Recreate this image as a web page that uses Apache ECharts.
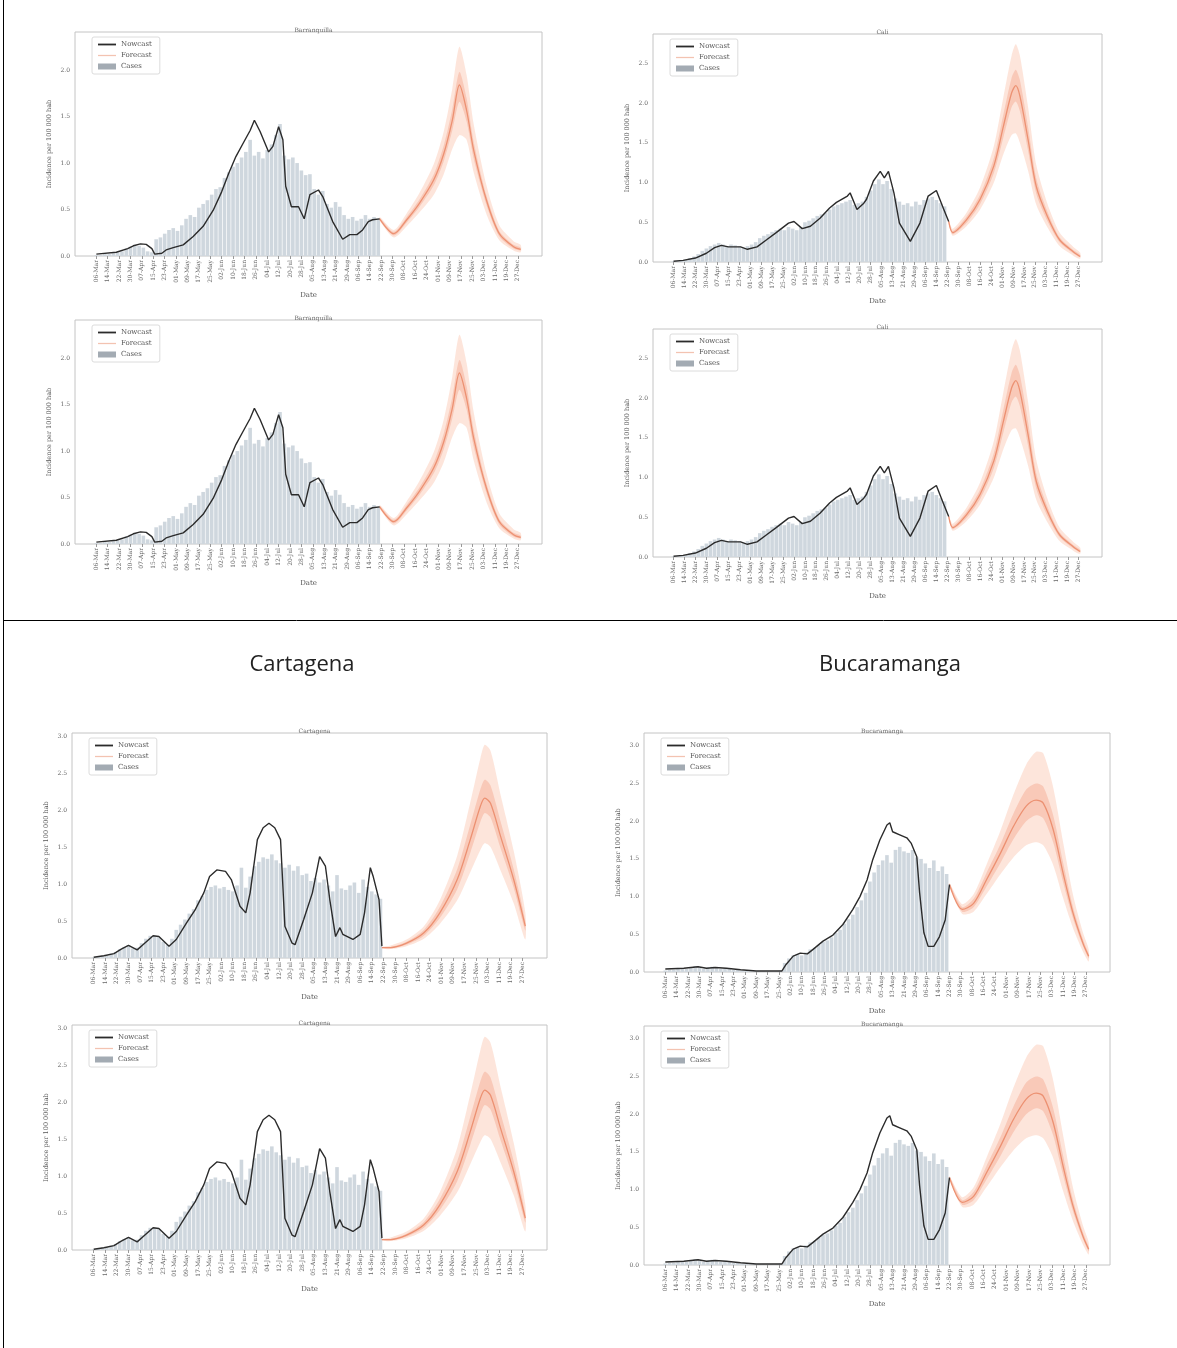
<!DOCTYPE html>
<html>
<head>
<meta charset="utf-8">
<script src="https://cdn.jsdelivr.net/npm/echarts@6/dist/echarts.min.js"></script>
<style>
  body { margin: 0; background: #fff; }
  #chart { width: 1177px; height: 1348px; }
</style>
</head>
<body>
<div id="chart"></div>
<script>
// tick labels of the date axis, one every 8 days starting on day 0
var dateLabels = ['06-Mar','14-Mar','22-Mar','30-Mar','07-Apr','15-Apr','23-Apr','01-May','09-May','17-May',
  '25-May','02-Jun','10-Jun','18-Jun','26-Jun','04-Jul','12-Jul','20-Jul','28-Jul','05-Aug','13-Aug','21-Aug',
  '29-Aug','06-Sep','14-Sep','22-Sep','30-Sep','08-Oct','16-Oct','24-Oct','01-Nov','09-Nov','17-Nov','25-Nov',
  '03-Dec','11-Dec','19-Dec','27-Dec'];
var yTicks20 = [0, 0.5, 1.0, 1.5, 2.0];
var yTicks25 = [0, 0.5, 1.0, 1.5, 2.0, 2.5];
var yTicks30 = [0, 0.5, 1.0, 1.5, 2.0, 2.5, 3.0];

// days (from 06-Mar) of the sampled case bars
var caseDays = [0,3,6,9,12,15,18,21,24,27,30,33,36,39,42,45,48,51,54,57,60,63,66,69,72,75,78,81,84,87,90,93,96,99,
  102,105,108,111,114,117,120,123,126,129,132,135,138,141,144,147,150,153,156,159,162,165,168,171,174,177,180,183,
  186,189,192,195,198];

// Barranquilla
var baqCases = [0.01,0.01,0.02,0.02,0.03,0.04,0.05,0.08,0.1,0.12,0.11,0.09,0.05,0.04,0.18,0.2,0.24,0.28,0.3,0.27,
  0.33,0.4,0.44,0.42,0.52,0.56,0.6,0.66,0.72,0.74,0.84,0.9,0.96,1.0,1.06,1.12,1.25,1.08,1.12,1.05,1.14,1.2,1.3,1.42,
  1.08,1.04,1.06,1.0,0.92,0.87,0.88,0.72,0.66,0.7,0.56,0.52,0.58,0.53,0.44,0.4,0.42,0.38,0.4,0.44,0.4,0.42,0.4];
var baqNowDays = [0,14,22,26,31,35,39,41,46,49,54,61,68,75,82,88,93,98,103,108,111,115,121,124,128,129,131,133,
  137,142,146,150,156,159,166,173,178,183,187,191,194,199];
var baqNowVals = [0.02,0.04,0.08,0.11,0.13,0.125,0.08,0.02,0.03,0.065,0.09,0.12,0.21,0.32,0.49,0.69,0.89,1.07,
  1.21,1.35,1.46,1.34,1.12,1.18,1.39,1.41,1.25,0.75,0.53,0.53,0.4,0.66,0.71,0.64,0.37,0.18,0.23,0.23,0.28,0.37,
  0.39,0.40];
var baqFcDays = [199,209,218,227,237,244,250,255,260,265,274,283,293,298];
var baqFcMid  = [0.40,0.24,0.39,0.57,0.82,1.10,1.46,1.84,1.57,1.14,0.60,0.24,0.10,0.07];
var baqFcLo90 = [0.38,0.20,0.32,0.47,0.66,0.88,1.15,1.30,1.25,0.90,0.45,0.17,0.06,0.04];
var baqFcHi90 = [0.42,0.28,0.46,0.68,0.99,1.34,1.80,2.25,1.95,1.42,0.76,0.33,0.16,0.12];
var baqFcLo50 = [0.39,0.22,0.36,0.53,0.76,1.02,1.35,1.66,1.45,1.05,0.55,0.21,0.08,0.06];
var baqFcHi50 = [0.41,0.26,0.42,0.61,0.88,1.19,1.58,1.98,1.70,1.23,0.65,0.27,0.12,0.09];

// Cali
var cliCases = [0.01,0.01,0.02,0.03,0.05,0.07,0.1,0.14,0.17,0.2,0.22,0.24,0.22,0.2,0.22,0.21,0.2,0.18,0.2,0.22,
  0.25,0.3,0.33,0.35,0.38,0.4,0.42,0.4,0.44,0.42,0.4,0.44,0.5,0.52,0.55,0.58,0.6,0.62,0.66,0.7,0.72,0.74,0.76,0.78,
  0.72,0.74,0.76,0.82,0.9,0.98,1.04,0.98,1.02,0.92,0.8,0.76,0.72,0.74,0.7,0.76,0.72,0.78,0.8,0.82,0.78,0.74,0.7];
var cliNowDays = [0,7,16,24,30,35,40,49,54,61,68,75,84,88,94,100,107,114,119,127,129,134,139,141,146,151,154,
  157,161,165,173,180,186,192,197,201];
var cliNowVals = [0.01,0.02,0.05,0.11,0.18,0.21,0.19,0.19,0.16,0.19,0.28,0.37,0.49,0.51,0.42,0.45,0.55,0.68,0.75,
  0.83,0.87,0.66,0.74,0.79,1.02,1.14,1.06,1.14,0.87,0.49,0.26,0.49,0.83,0.9,0.68,0.51];
var cliFcDays = [201,204,214,224,234,241,247,250,253,259,265,273,282,292,297];
var cliFcMid  = [0.51,0.37,0.53,0.79,1.21,1.71,2.13,2.22,2.09,1.54,0.95,0.58,0.28,0.13,0.07];
var cliFcLo90 = [0.49,0.33,0.45,0.66,1.0,1.36,1.6,1.62,1.5,1.15,0.72,0.44,0.2,0.08,0.04];
var cliFcHi90 = [0.53,0.42,0.62,0.94,1.46,2.08,2.6,2.74,2.6,1.95,1.22,0.74,0.37,0.19,0.12];
var cliFcLo50 = [0.50,0.35,0.49,0.73,1.12,1.57,1.95,2.02,1.9,1.4,0.86,0.52,0.25,0.11,0.06];
var cliFcHi50 = [0.52,0.39,0.57,0.85,1.31,1.86,2.32,2.42,2.29,1.7,1.05,0.64,0.31,0.15,0.09];

// Cartagena
var ctgCases = [0.01,0.02,0.03,0.04,0.06,0.08,0.12,0.15,0.17,0.13,0.14,0.2,0.26,0.3,0.3,0.28,0.22,0.18,0.26,0.38,
  0.45,0.52,0.6,0.66,0.78,0.84,0.92,0.96,0.98,0.94,0.96,0.92,0.9,0.98,1.22,0.95,1.1,1.24,1.3,1.36,1.34,1.4,1.32,
  1.28,1.22,1.26,1.18,1.24,1.12,1.14,1.04,1.08,1.02,1.06,0.98,0.9,1.12,0.94,0.92,0.98,1.02,0.88,1.06,0.96,0.9,
  0.86,0.8];
var ctgNowDays = [0,7,14,19,24,30,34,41,45,52,57,64,70,76,80,85,91,95,101,105,108,113,117,121,125,129,132,137,
  139,145,151,156,160,163,167,170,172,179,184,187,191,193,197,199];
var ctgNowVals = [0.01,0.03,0.06,0.12,0.17,0.11,0.18,0.3,0.29,0.16,0.25,0.47,0.65,0.88,1.1,1.19,1.17,1.06,0.7,
  0.61,0.88,1.6,1.76,1.82,1.76,1.6,0.43,0.2,0.18,0.52,0.88,1.37,1.24,0.79,0.29,0.41,0.32,0.25,0.32,0.61,1.22,1.1,
  0.79,0.16];
var ctgFcDays = [199,205,216,228,239,251,260,267,270,274,281,290,298];
var ctgFcMid  = [0.14,0.14,0.20,0.34,0.61,1.06,1.60,2.05,2.16,2.09,1.64,1.06,0.43];
var ctgFcLo90 = [0.13,0.12,0.16,0.26,0.46,0.78,1.16,1.46,1.55,1.50,1.18,0.74,0.25];
var ctgFcHi90 = [0.15,0.17,0.25,0.43,0.78,1.38,2.1,2.7,2.88,2.8,2.2,1.45,0.62];
var ctgFcLo50 = [0.135,0.13,0.18,0.30,0.54,0.93,1.42,1.84,1.96,1.90,1.48,0.95,0.37];
var ctgFcHi50 = [0.145,0.15,0.22,0.38,0.69,1.2,1.8,2.28,2.41,2.33,1.84,1.2,0.5];

// Bucaramanga
var bgaCases = [0.02,0.03,0.03,0.04,0.05,0.04,0.06,0.08,0.06,0.04,0.06,0.07,0.05,0.04,0.05,0.04,0.03,0.03,0.02,
  0.02,0.01,0.01,0.01,0.01,0.01,0.01,0.01,0.02,0.12,0.18,0.22,0.24,0.22,0.26,0.3,0.32,0.36,0.4,0.42,0.46,0.52,0.56,
  0.64,0.7,0.76,0.86,0.95,1.05,1.2,1.32,1.42,1.48,1.55,1.45,1.62,1.66,1.6,1.58,1.62,1.52,1.5,1.44,1.38,1.48,1.34,
  1.4,1.3];
var bgaNowDays = [0,13,23,29,35,43,53,64,82,85,90,95,100,104,111,118,125,132,137,142,146,151,156,158,160,165,170,
  173,177,179,182,185,189,193,197,200];
var bgaNowVals = [0.04,0.05,0.07,0.05,0.06,0.05,0.03,0.013,0.013,0.1,0.21,0.25,0.24,0.3,0.41,0.49,0.63,0.83,1.0,
  1.22,1.49,1.75,1.95,1.98,1.86,1.82,1.78,1.71,1.53,1.05,0.52,0.34,0.34,0.47,0.69,1.16];
var bgaFcDays = [200,209,217,226,236,245,254,261,266,273,280,287,294,298];
var bgaFcMid  = [1.16,0.83,0.91,1.22,1.58,1.93,2.2,2.28,2.24,1.89,1.31,0.78,0.38,0.21];
var bgaFcLo90 = [1.14,0.77,0.8,1.03,1.3,1.52,1.68,1.72,1.68,1.42,0.98,0.58,0.27,0.14];
var bgaFcHi90 = [1.18,0.9,1.03,1.42,1.88,2.35,2.75,2.92,2.9,2.45,1.72,1.02,0.52,0.3];
var bgaFcLo50 = [1.15,0.8,0.86,1.13,1.45,1.76,2.0,2.08,2.04,1.72,1.19,0.71,0.34,0.18];
var bgaFcHi50 = [1.17,0.86,0.97,1.31,1.7,2.1,2.42,2.5,2.46,2.08,1.45,0.86,0.43,0.24];

var cities = {
  baq: {title: 'Barranquilla', ymax: 2.41, ticks: yTicks20, cases: baqCases, nowDays: baqNowDays, nowVals: baqNowVals,
        fcDays: baqFcDays, mid: baqFcMid, lo90: baqFcLo90, hi90: baqFcHi90, lo50: baqFcLo50, hi50: baqFcHi50},
  cli: {title: 'Cali', ymax: 2.87, ticks: yTicks25, cases: cliCases, nowDays: cliNowDays, nowVals: cliNowVals,
        fcDays: cliFcDays, mid: cliFcMid, lo90: cliFcLo90, hi90: cliFcHi90, lo50: cliFcLo50, hi50: cliFcHi50},
  ctg: {title: 'Cartagena', ymax: 3.04, ticks: yTicks30, cases: ctgCases, nowDays: ctgNowDays, nowVals: ctgNowVals,
        fcDays: ctgFcDays, mid: ctgFcMid, lo90: ctgFcLo90, hi90: ctgFcHi90, lo50: ctgFcLo50, hi50: ctgFcHi50},
  bga: {title: 'Bucaramanga', ymax: 3.17, ticks: yTicks30, cases: bgaCases, nowDays: bgaNowDays, nowVals: bgaNowVals,
        fcDays: bgaFcDays, mid: bgaFcMid, lo90: bgaFcLo90, hi90: bgaFcHi90, lo50: bgaFcLo50, hi50: bgaFcHi50}
};

// plot boxes of the eight panels
var panels = [
  {c: 'baq', left: 75,  top: 32,   width: 467, height: 224},
  {c: 'cli', left: 653, top: 34,   width: 449, height: 228},
  {c: 'baq', left: 75,  top: 320,  width: 467, height: 224},
  {c: 'cli', left: 653, top: 329,  width: 449, height: 228},
  {c: 'ctg', left: 72,  top: 733,  width: 475, height: 225},
  {c: 'bga', left: 644, top: 733,  width: 466, height: 239},
  {c: 'ctg', left: 72,  top: 1025, width: 475, height: 225},
  {c: 'bga', left: 644, top: 1026, width: 466, height: 239}
];

var serif = 'DejaVu Serif';
var xTickDays = dateLabels.map(function (l, i) { return i * 8; });

function pairs(xs, ys) {
  return xs.map(function (x, i) { return [x, ys[i]]; });
}

// filled band between two curves, placed through the axes of the panel
function band(k, days, lo, hi, color) {
  return {
    type: 'custom', xAxisIndex: k, yAxisIndex: k, data: [[days[0], lo[0]]], silent: true, z: 2,
    renderItem: function (params, api) {
      var pts = [];
      for (var i = 0; i < days.length; i++) pts.push(api.coord([days[i], hi[i]]));
      for (var j = days.length - 1; j >= 0; j--) pts.push(api.coord([days[j], lo[j]]));
      return {type: 'polygon', shape: {points: pts, smooth: 0.25}, style: {fill: color}};
    }
  };
}

var grids = [], xAxes = [], yAxes = [], series = [], titles = [], legends = [];

panels.forEach(function (p, k) {
  var c = cities[p.c];
  grids.push({left: p.left, top: p.top, width: p.width, height: p.height,
    show: true, borderColor: '#c4c4c4', borderWidth: 1, backgroundColor: 'transparent'});
  titles.push({text: c.title, left: p.left + p.width / 2, top: p.top - 10, textAlign: 'center',
    textStyle: {fontSize: 6, fontWeight: 'normal', color: '#666', fontFamily: serif}});
  legends.push({
    data: [
      {name: 'Nowcast', icon: 'path://M0,0H20V2H0Z', itemStyle: {color: '#2b2b2b'}},
      {name: 'Forecast', icon: 'path://M0,0H20V1.4H0Z', itemStyle: {color: '#f3c3b1'}},
      {name: 'Cases', icon: 'rect', itemStyle: {color: '#a3abb3'}}
    ],
    orient: 'vertical', left: p.left + 17, top: p.top + 5, itemWidth: 18, itemHeight: 6, itemGap: 4,
    padding: [4, 8, 4, 6], borderColor: '#dcdcdc', borderWidth: 1, borderRadius: 2,
    textStyle: {fontSize: 7, color: '#555', fontFamily: serif}, selectedMode: false});
  xAxes.push({type: 'value', gridIndex: k, min: -15, max: 313,
    name: 'Date', nameLocation: 'middle', nameGap: 36,
    nameTextStyle: {fontSize: 7, color: '#555', fontFamily: serif},
    axisLine: {show: false, onZero: false}, splitLine: {show: false},
    axisTick: {show: true, length: 3, customValues: xTickDays, lineStyle: {color: '#999'}},
    axisLabel: {customValues: xTickDays, rotate: 90, fontSize: 6, color: '#666', fontFamily: serif, margin: 4,
      formatter: function (v) { return dateLabels[Math.round(v / 8)] || ''; }}});
  yAxes.push({type: 'value', gridIndex: k, min: 0, max: c.ymax, interval: 0.5,
    name: 'Incidence per 100 000 hab', nameLocation: 'middle', nameGap: 22,
    nameTextStyle: {fontSize: 6.5, color: '#555', fontFamily: serif},
    axisLine: {show: false, onZero: false}, splitLine: {show: false},
    axisTick: {show: false},
    axisLabel: {fontSize: 6, color: '#666', fontFamily: serif, margin: 5, showMaxLabel: false,
      formatter: function (v) { return c.ticks.indexOf(+v.toFixed(1)) >= 0 ? v.toFixed(1) : ''; }}});

  series.push({type: 'bar', name: 'Cases', xAxisIndex: k, yAxisIndex: k, data: pairs(caseDays, c.cases),
    barWidth: 3.6, itemStyle: {color: '#cfd7de'}, silent: true, z: 1});
  series.push(band(k, c.fcDays, c.lo90, c.hi90, 'rgba(250,186,160,0.38)'));
  series.push(band(k, c.fcDays, c.lo50, c.hi50, 'rgba(242,150,120,0.35)'));
  series.push({type: 'line', name: 'Forecast', xAxisIndex: k, yAxisIndex: k, data: pairs(c.fcDays, c.mid),
    symbol: 'none', smooth: 0.3, lineStyle: {color: '#ec9172', width: 1.3}, itemStyle: {color: '#ec9172'},
    silent: true, z: 3});
  series.push({type: 'line', name: 'Nowcast', xAxisIndex: k, yAxisIndex: k, data: pairs(c.nowDays, c.nowVals),
    symbol: 'none', lineStyle: {color: '#2b2b2b', width: 1.4}, itemStyle: {color: '#2b2b2b'},
    silent: true, z: 4});
});

var chart = echarts.init(document.getElementById('chart'));
chart.setOption({
  animation: false,
  backgroundColor: '#fff',
  title: titles,
  legend: legends,
  grid: grids,
  xAxis: xAxes,
  yAxis: yAxes,
  series: series,
  graphic: [
    {type: 'line', shape: {x1: 3.5, y1: 0, x2: 3.5, y2: 1348}, style: {stroke: '#000', lineWidth: 1}},
    {type: 'line', shape: {x1: 3, y1: 620.5, x2: 1177, y2: 620.5}, style: {stroke: '#000', lineWidth: 1}},
    {type: 'text', x: 302, y: 665, style: {text: 'Cartagena', fontSize: 22, fontFamily: 'Open Sans',
      fill: '#222', align: 'center', verticalAlign: 'middle'}},
    {type: 'text', x: 890, y: 665, style: {text: 'Bucaramanga', fontSize: 22, fontFamily: 'Open Sans',
      fill: '#222', align: 'center', verticalAlign: 'middle'}}
  ]
});
</script>
</body>
</html>
